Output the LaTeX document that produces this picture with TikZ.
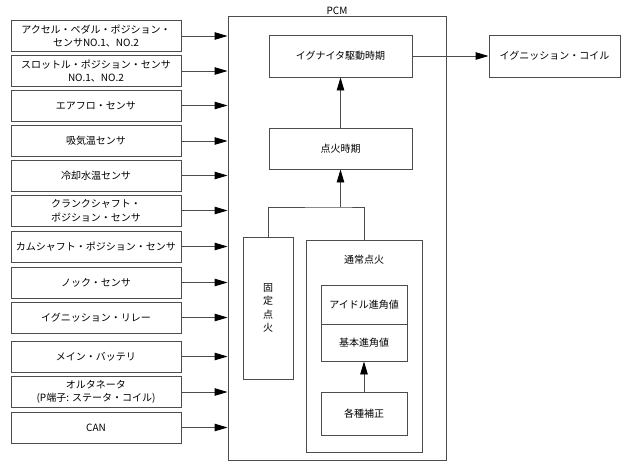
\documentclass[tikz,border=0pt]{standalone}
\usepackage{fontspec}
\setmainfont{Noto Sans CJK JP}
\usetikzlibrary{arrows.meta}

\begin{document}
\begin{tikzpicture}[x=1pt,y=-1pt,
        font=\fontsize{10}{13.5}\selectfont,
        blk/.style={draw=black!70,line width=0.9pt,inner sep=1pt,align=center},
        sensor/.style={blk,minimum width=170pt,minimum height=31pt},
        inbox/.style={blk,minimum width=86pt},
        wire/.style={draw=black!70,line width=0.9pt},
        arr/.style={wire,-{Triangle[length=13pt,width=7.5pt,fill=black,color=black]}}]
        \useasboundingbox (0,0) rectangle (622,464);

        \node[sensor] (s_1) at (96,36) {アクセル・ペダル・ポジション・\\センサNO.1、NO.2};
        \node[sensor] (s_2) at (96,71) {スロットル・ポジション・センサ\\NO.1、NO.2};
        \node[sensor] (s_3) at (96,105.5) {エアフロ・センサ};
        \node[sensor] (s_4) at (96,141) {吸気温センサ};
        \node[sensor] (s_5) at (96,175.5) {冷却水温センサ};
        \node[sensor] (s_6) at (96,210.5) {クランクシャフト・\\ポジション・センサ};
        \node[sensor] (s_7) at (96,246.5) {カムシャフト・ポジション・センサ};
        \node[sensor] (s_8) at (96,282.5) {ノック・センサ};
        \node[sensor] (s_9) at (96,317.5) {イグニッション・リレー};
        \node[sensor] (s_10) at (96,356.5) {メイン・バッテリ};
        \node[sensor] (s_11) at (96,392) {オルタネータ\\(P端子: ステータ・コイル)};
        \node[sensor] (s_12) at (96,427.5) {CAN};

        \node[blk,minimum width=218pt,minimum height=444pt,
            label={[inner sep=1pt]above:PCM}] (pcm) at (337,238) {};

        \draw[arr] (s_1.east) -- (s_1.east -| pcm.west);
        \draw[arr] (s_2.east) -- (s_2.east -| pcm.west);
        \draw[arr] (s_3.east) -- (s_3.east -| pcm.west);
        \draw[arr] (s_4.east) -- (s_4.east -| pcm.west);
        \draw[arr] (s_5.east) -- (s_5.east -| pcm.west);
        \draw[arr] (s_6.east) -- (s_6.east -| pcm.west);
        \draw[arr] (s_7.east) -- (s_7.east -| pcm.west);
        \draw[arr] (s_8.east) -- (s_8.east -| pcm.west);
        \draw[arr] (s_9.east) -- (s_9.east -| pcm.west);
        \draw[arr] (s_10.east) -- (s_10.east -| pcm.west);
        \draw[arr] (s_11.east) -- (s_11.east -| pcm.west);
        \draw[arr] (s_12.east) -- (s_12.east -| pcm.west);

        \node[blk,minimum width=143pt,minimum height=42pt] (igniter) at (340.5,56) {イグナイタ駆動時期};
        \node[blk,minimum width=131pt,minimum height=42pt] (coil) at (554.5,56) {イグニッション・コイル};
        \node[blk,minimum width=143pt,minimum height=41pt] (timing) at (340.5,148.5) {点火時期};
        \node[blk,minimum width=50pt,minimum height=142pt] (fixed) at (268,308) {固\\定\\点\\火};
        \node[blk,minimum width=116pt,minimum height=212pt,
            label={[anchor=north,yshift=-12.5pt]north:通常点火}] (normal) at (364,346) {};
        \node[inbox,minimum height=39pt] (idle) at (364,304.5) {アイドル進角値};
        \node[inbox,minimum height=37pt] (base) at (364,342.5) {基本進角値};
        \node[inbox,minimum height=43pt] (corr) at (364,413.5) {各種補正};

        \coordinate (j) at (340.5,207);
        \draw[wire] (fixed.north) |- (j) -| (normal.north);
        \draw[arr] (j) -- (timing.south);
        \draw[arr] (timing.north) -- (igniter.south);
        \draw[arr] (igniter.east) -- (coil.west);
        \draw[arr] (corr.north) -- (base.south);
    \end{tikzpicture}
\end{document}
